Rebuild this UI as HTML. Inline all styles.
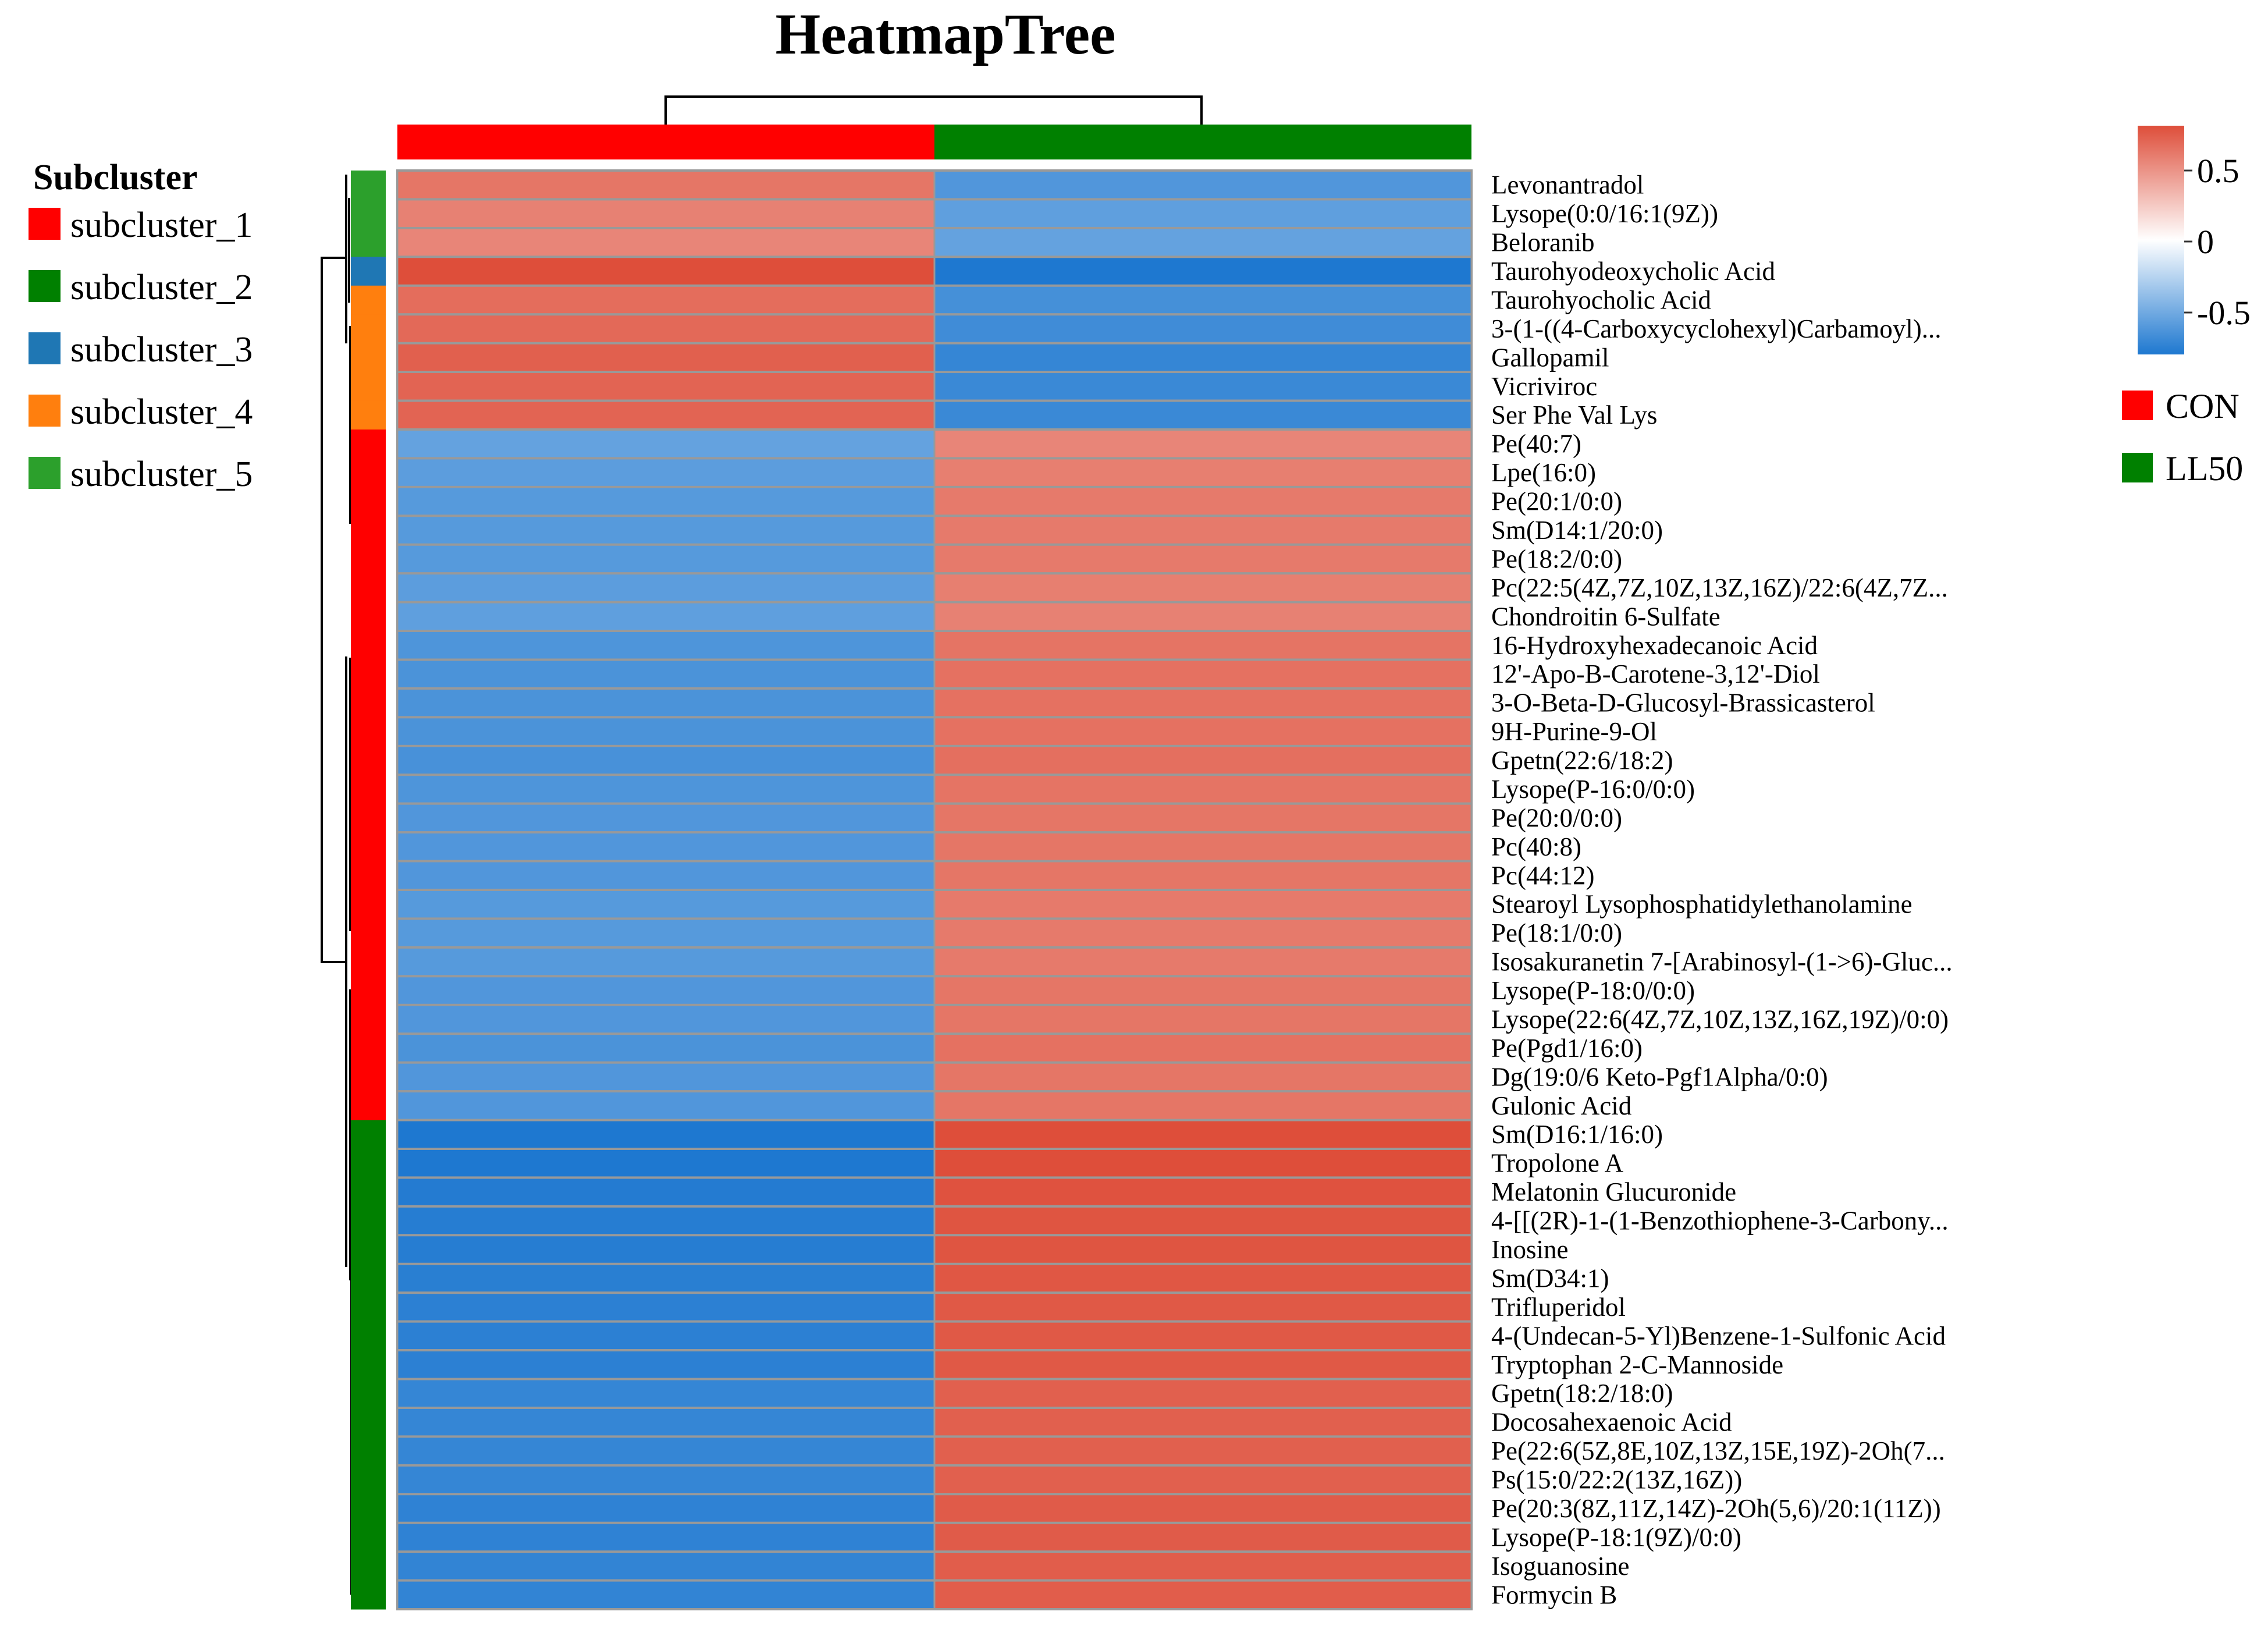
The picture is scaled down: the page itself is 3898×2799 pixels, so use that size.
<!DOCTYPE html>
<html><head><meta charset="utf-8"><style>
html,body{margin:0;padding:0;background:#fff}
svg{display:block}
text{font-family:"Liberation Serif",serif}
</style></head><body>
<svg id="chart" width="3898" height="2799" viewBox="0 0 3898 2799" xmlns="http://www.w3.org/2000/svg">
<defs>
<linearGradient id="cbar" x1="0" y1="0" x2="0" y2="1">
<stop offset="0" stop-color="rgb(222,78,58)"/>
<stop offset="0.5" stop-color="#ffffff"/>
<stop offset="1" stop-color="rgb(30,120,208)"/>
</linearGradient>
</defs>
<text x="1625" y="92" font-size="100" font-weight="bold" text-anchor="middle">HeatmapTree</text>
<g id="topdendro" stroke="#000" stroke-width="4" fill="none">
<polyline points="1144,214 1144,166 2065,166 2065,214"/>
</g>
<g id="colbar"></g>
<g id="rowdendro" stroke="#000" stroke-width="4" fill="none">
<polyline points="595,300 595,590"/>
<polyline points="595,443 553,443 553,1653 595,1653"/>
<polyline points="595,1128 595,2177"/>
<polyline points="600,340 600,520"/>
<polyline points="602,560 602,900"/>
<polyline points="602,1130 602,1600"/>
<polyline points="602,1700 602,2200"/>
<polyline points="604,2200 604,2740"/>
</g>
<g id="sidebar"></g>
<g id="cells"></g>
<g id="labels"></g>
<g id="sublegend">
<text x="57" y="325" font-size="62" font-weight="bold">Subcluster</text>
</g>
<g>
<rect x="3674" y="216" width="80" height="393" fill="url(#cbar)"/>
<g id="cticks"></g>
</g>
<g>
<rect x="3647" y="671" width="53" height="51" fill="#ff0000"/>
<text x="3722" y="718" font-size="60">CON</text>
<rect x="3647" y="778" width="53" height="51" fill="#008000"/>
<text x="3722" y="825" font-size="60">LL50</text>
</g>
</svg>
<script>
const rowNames = ["Levonantradol","Lysope(0:0/16:1(9Z))","Beloranib","Taurohyodeoxycholic Acid","Taurohyocholic Acid","3-(1-((4-Carboxycyclohexyl)Carbamoyl)...","Gallopamil","Vicriviroc","Ser Phe Val Lys","Pe(40:7)","Lpe(16:0)","Pe(20:1/0:0)","Sm(D14:1/20:0)","Pe(18:2/0:0)","Pc(22:5(4Z,7Z,10Z,13Z,16Z)/22:6(4Z,7Z...","Chondroitin 6-Sulfate","16-Hydroxyhexadecanoic Acid","12'-Apo-B-Carotene-3,12'-Diol","3-O-Beta-D-Glucosyl-Brassicasterol","9H-Purine-9-Ol","Gpetn(22:6/18:2)","Lysope(P-16:0/0:0)","Pe(20:0/0:0)","Pc(40:8)","Pc(44:12)","Stearoyl Lysophosphatidylethanolamine","Pe(18:1/0:0)","Isosakuranetin 7-[Arabinosyl-(1->6)-Gluc...","Lysope(P-18:0/0:0)","Lysope(22:6(4Z,7Z,10Z,13Z,16Z,19Z)/0:0)","Pe(Pgd1/16:0)","Dg(19:0/6 Keto-Pgf1Alpha/0:0)","Gulonic Acid","Sm(D16:1/16:0)","Tropolone A","Melatonin Glucuronide","4-[[(2R)-1-(1-Benzothiophene-3-Carbony...","Inosine","Sm(D34:1)","Trifluperidol","4-(Undecan-5-Yl)Benzene-1-Sulfonic Acid","Tryptophan 2-C-Mannoside","Gpetn(18:2/18:0)","Docosahexaenoic Acid","Pe(22:6(5Z,8E,10Z,13Z,15E,19Z)-2Oh(7...","Ps(15:0/22:2(13Z,16Z))","Pe(20:3(8Z,11Z,14Z)-2Oh(5,6)/20:1(11Z))","Lysope(P-18:1(9Z)/0:0)","Isoguanosine","Formycin B"];
const groups = ["CON","LL50"];
const conValues = [0.62,0.57,0.55,0.8,0.66,0.68,0.72,0.7,0.7,-0.55,-0.58,-0.6,-0.6,-0.6,-0.58,-0.57,-0.63,-0.64,-0.64,-0.64,-0.65,-0.63,-0.62,-0.62,-0.62,-0.6,-0.6,-0.6,-0.62,-0.62,-0.64,-0.62,-0.62,-0.83,-0.8,-0.78,-0.77,-0.77,-0.76,-0.75,-0.75,-0.75,-0.72,-0.72,-0.72,-0.72,-0.74,-0.74,-0.73,-0.73];
const ll50Values = [-0.62,-0.57,-0.55,-0.8,-0.66,-0.68,-0.72,-0.7,-0.7,0.55,0.58,0.6,0.6,0.6,0.58,0.57,0.63,0.64,0.64,0.64,0.65,0.63,0.62,0.62,0.62,0.6,0.6,0.6,0.62,0.62,0.64,0.62,0.62,0.83,0.8,0.78,0.77,0.77,0.76,0.75,0.75,0.75,0.72,0.72,0.72,0.72,0.74,0.74,0.73,0.73];
const subclusterOfRow = [5,5,5,3,4,4,4,4,4,1,1,1,1,1,1,1,1,1,1,1,1,1,1,1,1,1,1,1,1,1,1,1,1,2,2,2,2,2,2,2,2,2,2,2,2,2,2,2,2,2];
const subclusterNames = ["subcluster_1","subcluster_2","subcluster_3","subcluster_4","subcluster_5"];
const scaleTicks = [0.5,0,-0.5];
const scaleTickLabels = ["0.5","0","-0.5"];

const NS="http://www.w3.org/2000/svg";
const subColors = {1:"#ff0000",2:"#008000",3:"#1f77b4",4:"#ff7f0e",5:"#2ca02c"};
const groupColors = ["#ff0000","#008000"];
const X0=683, X1=2529, Y0=293, Y1=2765;
const nRows=rowNames.length, nCols=groups.length;
const rowH=(Y1-Y0)/nRows, colW=(X1-X0)/nCols;
function yRow(i){return Y0+i*rowH;}
function xCol(j){return X0+j*colW;}
function yScale(v){return 415-v*244;}
function color(v){
  const t=Math.max(-1,Math.min(1,v/0.8));
  let c;
  if(t>=0){c=[255+t*(222-255),255+t*(78-255),255+t*(58-255)];}
  else{const s=-t;c=[255+s*(30-255),255+s*(120-255),255+s*(208-255)];}
  return "rgb("+c.map(Math.round).join(",")+")";
}
function mk(tag,attrs,parent){const e=document.createElementNS(NS,tag);for(const k in attrs)e.setAttribute(k,attrs[k]);parent.appendChild(e);return e;}

const cells=document.getElementById("cells");
mk("rect",{x:X0-2,y:Y0-2,width:X1-X0+4,height:Y1-Y0+4,fill:"#999"},cells);
const series=[conValues,ll50Values];
for(let j=0;j<nCols;j++){
  for(let i=0;i<nRows;i++){
    const r=mk("rect",{x:xCol(j)+1.5,y:yRow(i)+2,width:colW-3,height:rowH-4,fill:color(series[j][i])},cells);
    
    
  }
}
const colbar=document.getElementById("colbar");
for(let j=0;j<nCols;j++){
  const r=mk("rect",{x:xCol(j),y:214,width:colW,height:60,fill:groupColors[j]},colbar);
  
  
}
const side=document.getElementById("sidebar");
for(let i=0;i<nRows;i++){
  const r=mk("rect",{x:603,y:yRow(i),width:60,height:rowH+0.5,fill:subColors[subclusterOfRow[i]]},side);
  
  
}
const labels=document.getElementById("labels");
for(let i=0;i<nRows;i++){
  const t=mk("text",{x:2563,y:yRow(i)+rowH/2+15,"font-size":45},labels);
  t.textContent=rowNames[i];
  
  
}
const sl=document.getElementById("sublegend");
for(let k=0;k<subclusterNames.length;k++){
  const y=357+k*107;
  const r=mk("rect",{x:49,y:y,width:55,height:55,fill:subColors[k+1]},sl);
  
  
  const t=mk("text",{x:121,y:y+50,"font-size":62},sl);
  t.textContent=subclusterNames[k];
  
  
}
const ct=document.getElementById("cticks");
for(let k=0;k<scaleTicks.length;k++){
  const y=yScale(scaleTicks[k]);
  const l=mk("line",{x1:3754,x2:3768,y1:y,y2:y,stroke:"#333","stroke-width":3},ct);
  
  
  const t=mk("text",{x:3776,y:y+20,"font-size":58},ct);
  t.textContent=scaleTickLabels[k];
  
  
}
</script>
</body></html>
